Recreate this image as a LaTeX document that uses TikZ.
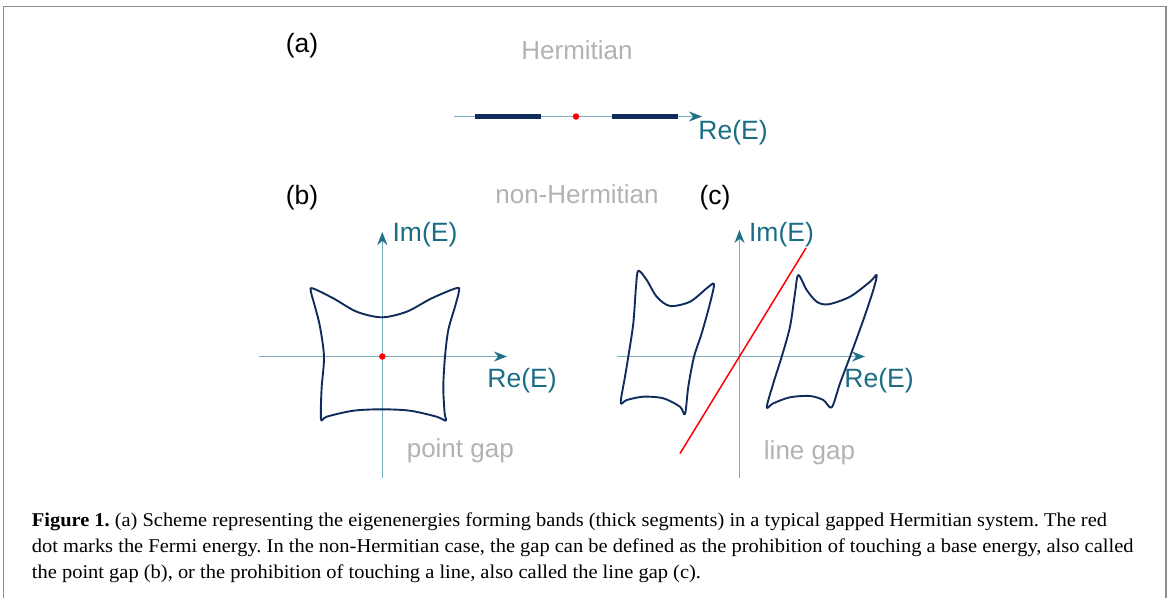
\documentclass[tikz,border=0pt]{standalone}
\usepackage{fontspec}
\usepackage{graphicx}
\usetikzlibrary{arrows.meta}
\newfontfamily\lsans{Liberation Sans}
\newfontfamily\lserif{Liberation Serif}
\definecolor{bandc}{RGB}{15,44,92}
\definecolor{axisc}{RGB}{120,174,190}
\definecolor{tipc}{RGB}{31,111,134}
\definecolor{labc}{RGB}{26,109,133}
\definecolor{grayt}{RGB}{178,178,178}
\definecolor{framec}{RGB}{140,140,140}
\newsavebox\capbox
\frenchspacing
\tikzset{
  axis/.style={draw=axisc, line width=1.5pt, -{Stealth[length=13pt,width=10pt,color=tipc]}},
  band/.style={draw=bandc, line width=1.9pt, line join=round},
  thickseg/.style={draw=bandc, line width=4.2pt},
  gapline/.style={draw=red, line width=1.5pt},
  panellab/.style={font=\lsans\fontsize{26.5}{30}\selectfont, text=black, anchor=base, inner sep=0pt},
  graylab/.style={font=\lsans\fontsize{26}{30}\selectfont, text=grayt, anchor=base, inner sep=0pt},
  axislab/.style={font=\lsans\fontsize{26.5}{30}\selectfont, text=labc, anchor=base, inner sep=0pt},
  capline/.style={font=\lserif\fontsize{19.5}{22}\selectfont, anchor=base west, inner sep=0pt},
  reddot/.style={circle, fill=red, inner sep=0pt, minimum size=6.5pt},
}
\begin{document}
\frenchspacing
\sbox\capbox{\lserif\fontsize{19.5}{22}\selectfont dot marks the Fermi energy. In the non-Hermitian case, the gap can be defined as the prohibition of touching a base energy, also called}%
\pgfmathsetmacro\capwd{\wd\capbox}%
\pgfmathsetmacro\capscale{1101.6/\capwd}%
\begin{tikzpicture}[x=1pt,y=-1pt]
\useasboundingbox (0,0) rectangle (1170,598);
% frame
\draw[framec, line width=1.6pt] (3.5,598) -- (3.5,6.5) -- (1166,6.5) -- (1166,598);

% ---------- panel (a)
\node[panellab] (la) at (302,52) {(a)};
\node[graylab] (herm) at (577,59) {Hermitian};
\coordinate (a0) at (454,116.5);
\coordinate (a1) at (702,116.5);
\draw[axis] (a0) -- (a1);
\coordinate (s1a) at (475,116.5); \coordinate (s1b) at (541,116.5);
\coordinate (s2a) at (612,116.5); \coordinate (s2b) at (678,116.5);
\draw[thickseg] (s1a) -- (s1b);
\draw[thickseg] (s2a) -- (s2b);
\node[reddot] (fa) at (576,116.5) {};
\node[axislab] (rea) at (733,139) {Re(E)};

% ---------- headings
\node[panellab] (lb) at (302,204) {(b)};
\node[graylab] (nherm) at (577,203.5) {non-Hermitian};
\node[panellab] (lc) at (715,204) {(c)};

% ---------- panel (b)
\coordinate (bx0) at (259,356.5);
\coordinate (bx1) at (507,356.5);
\coordinate (by0) at (382.3,478);
\coordinate (by1) at (382.3,232);
\draw[axis] (bx0) -- (bx1);
\draw[axis] (by0) -- (by1);
\draw[band] plot[smooth cycle, tension=0.5] coordinates {
 (312.5,288.3) (333.3,298.3) (356.7,311.7) (381.7,317.3) (406.7,311.7) (431.7,298.3)
 (456.8,288) (458.8,292) (455,306.7) (448.3,330) (445,356.7) (443.3,386.7) (444.6,413) (445.8,420.6)
 (436.7,416.7) (410,410.7) (381.7,409.3) (353.3,410.7) (326.7,416.7) (321.6,420.6)
 (320.8,412) (321.7,386.7) (324,356.7) (320,326.7) (315,306.7) (311,292)};
\node[reddot] (fb) at (382.3,356.5) {};
\node[axislab] (imb) at (425,241.5) {Im(E)};
\node[axislab] (reb) at (522,387.5) {Re(E)};
\node[graylab] (pg) at (460.3,457.5) {point gap};

% ---------- panel (c)
\coordinate (cx0) at (617,356.5);
\coordinate (cx1) at (865,356.5);
\coordinate (cy0) at (739.5,478);
\coordinate (cy1) at (739.5,230);
\draw[axis] (cx0) -- (cx1);
\draw[axis] (cy0) -- (cy1);
\draw[band] plot[smooth cycle, tension=0.5] coordinates {
 (638.3,270.7) (646.7,280) (656.7,296.7) (670,306) (690,301.7) (706.7,288.3) (714,284)
 (710,303.3) (701.7,333.3) (694,356.7) (688.3,386.7) (685,414)
 (680,406.7) (663.3,398.3) (643.3,396.7) (626.7,400) (620.7,402.7)
 (625,376.7) (628.3,356.7) (633.3,323.3) (636,286.7)};
\draw[band] plot[smooth cycle, tension=0.5] coordinates {
 (798.3,275) (806.7,290) (816.7,301.7) (828.3,304.3) (850,296.7) (870,281.7) (876.7,275)
 (873.3,290) (863.3,320) (850,356.7) (840,383.3) (831.7,407.3)
 (823.3,400) (810,396) (790,397.3) (773.3,403.3) (766.7,407.3)
 (773.3,383.3) (781.7,356.7) (790,326.7) (795,293.3)};
\coordinate (g0) at (680,453.5);
\coordinate (g1) at (806,248);
\draw[gapline] (g0) -- (g1);
\node[axislab] (imc) at (781.5,241.5) {Im(E)};
\node[axislab] (rec) at (879,387.5) {Re(E)};
\node[graylab] (lg) at (809.5,459) {line gap};

% ---------- caption
\node[capline] (cap1) at (31.7,526) {\resizebox{1075pt}{\height}{\textbf{Figure 1.} (a) Scheme representing the eigenenergies forming bands (thick segments) in a typical gapped Hermitian system. The red}};
\node[capline] (cap2) at (31.7,552) {\scalebox{\capscale}[1]{\usebox\capbox}};
\node[capline] (cap3) at (31.7,578) {\scalebox{\capscale}[1]{the point gap (b), or the prohibition of touching a line, also called the line gap (c).}};
\end{tikzpicture}
\end{document}
